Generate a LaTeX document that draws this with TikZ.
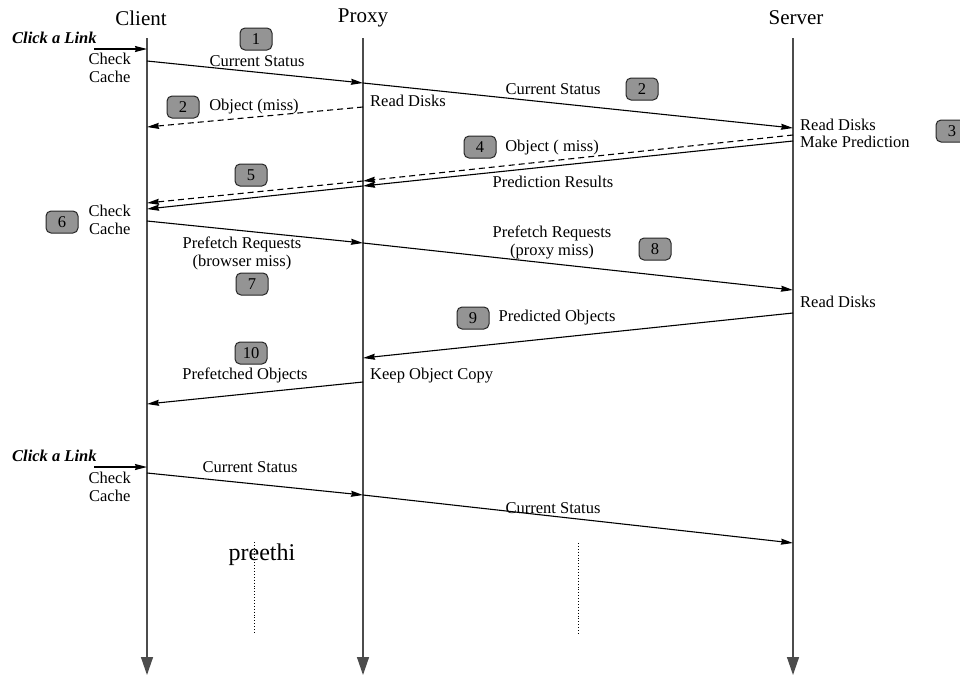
\documentclass[tikz,border=0pt]{standalone}
\usepackage{fontspec}
\setmainfont{Liberation Serif}
\usetikzlibrary{arrows.meta}
\begin{document}
\begin{tikzpicture}[x=1pt,y=-1pt,
  head/.style={inner sep=0pt, font=\fontsize{21}{23}\selectfont},
  lbl/.style={inner sep=0pt, font=\fontsize{16.5}{18}\selectfont, align=center},
  click/.style={inner sep=0pt, font=\fontsize{16.5}{18}\selectfont\bfseries\itshape},
  badge/.style={draw=black!85, fill=black!42, rounded corners=5pt, line width=1pt,
    minimum width=32pt, minimum height=22pt, inner sep=0pt, font=\fontsize{16.5}{18}\selectfont},
  life/.style={draw=black!70, line width=1.4pt, -{Triangle[length=18pt,width=12pt]}},
  msg/.style={draw=black, line width=1.1pt, -{Stealth[length=12pt,width=6pt,inset=1pt]}},
  dmsg/.style={msg, dash pattern=on 6pt off 4pt},
  dots/.style={draw=black, line width=0.9pt, dotted}
]
\useasboundingbox (0,0) rectangle (960,675);

% lifelines
\node[head] (client) at (141,18) {Client};
\node[head] (proxy) at (363,18) {Proxy};
\node[head] (server) at (796,18) {Server};
\coordinate (ct) at (147,38);  \coordinate (cb) at (147,675);
\coordinate (pt) at (363,38);  \coordinate (pb) at (363,675);
\coordinate (st) at (793,38);  \coordinate (sb) at (793,675);
\draw[life] (ct) -- (cb);
\draw[life] (pt) -- (pb);
\draw[life] (st) -- (sb);

% first click
\node[click, anchor=west] (click1) at (12,38) {Click a Link};
\coordinate (k1) at (94,49); \coordinate (k1e) at (147,49);
\draw[msg] (k1) -- (k1e);
\node[lbl, anchor=east] (cc1) at (131,68) {Check\\Cache};

% current status 1
\coordinate (a1) at (147,61); \coordinate (a2) at (363,83); \coordinate (a3) at (793,128);
\draw[msg] (a1) -- (a2);
\draw[msg] (a2) -- (a3);
\node[badge] (b1) at (256,39) {1};
\node[lbl] (cs1) at (257,61) {Current Status};
\node[lbl] (cs2) at (553,89) {Current Status};
\node[badge] (b2r) at (642,89) {2};

% object miss (proxy -> client)
\coordinate (o1) at (363,107); \coordinate (o2) at (147,127);
\draw[dmsg] (o1) -- (o2);
\node[badge] (b2l) at (183,107) {2};
\node[lbl] (om1) at (254,107) {Object (miss)};
\node[lbl, anchor=west] (rd1) at (370,101) {Read Disks};

% server actions
\node[lbl, anchor=west] (rd2) at (800,125) {Read Disks};
\node[lbl, anchor=west] (mp) at (800,142) {Make Prediction};
\node[badge] (b3) at (952,131) {3};

% object miss from server + prediction results
\coordinate (d1) at (793,135); \coordinate (d2) at (363,181); \coordinate (d3) at (147,203);
\draw[dmsg] (d1) -- (d2);
\draw[dmsg] (d2) -- (d3);
\coordinate (p1) at (793,141); \coordinate (p2) at (363,186); \coordinate (p3) at (147,209);
\draw[msg] (p1) -- (p2);
\draw[msg] (p2) -- (p3);
\node[badge] (b4) at (480,147) {4};
\node[lbl] (om2) at (552,148) {Object ( miss)};
\node[lbl] (pr) at (553,182) {Prediction Results};
\node[badge] (b5) at (251,175) {5};

% check cache 2
\node[badge] (b6) at (62,222) {6};
\node[lbl, anchor=east] (cc2) at (131,220) {Check\\Cache};

% prefetch requests
\coordinate (f1) at (147,221); \coordinate (f2) at (363,243); \coordinate (f3) at (793,290);
\draw[msg] (f1) -- (f2);
\draw[msg] (f2) -- (f3);
\node[lbl] (pf1) at (242,253) {Prefetch Requests\\(browser miss)};
\node[badge] (b7) at (252,284) {7};
\node[lbl] (pf2) at (552,242) {Prefetch Requests\\(proxy miss)};
\node[badge] (b8) at (655,249) {8};
\node[lbl, anchor=west] (rd3) at (800,302) {Read Disks};

% predicted objects
\coordinate (q1) at (793,313); \coordinate (q2) at (363,358);
\draw[msg] (q1) -- (q2);
\node[badge] (b9) at (473,318) {9};
\node[lbl] (po) at (557,318) {Predicted Objects};
\node[lbl, anchor=west] (ko) at (370,376) {Keep Object Copy};

% prefetched objects
\coordinate (r1) at (363,382); \coordinate (r2) at (147,404);
\draw[msg] (r1) -- (r2);
\node[badge] (b10) at (251,353) {10};
\node[lbl] (pfo) at (245,375) {Prefetched Objects};

% second click
\node[click, anchor=west] (click2) at (12,456) {Click a Link};
\coordinate (k2) at (94,467); \coordinate (k2e) at (147,467);
\draw[msg] (k2) -- (k2e);
\node[lbl, anchor=east] (cc3) at (131,487) {Check\\Cache};

\coordinate (s1) at (147,473); \coordinate (s2) at (363,495); \coordinate (s3) at (793,543);
\draw[msg] (s1) -- (s2);
\draw[msg] (s2) -- (s3);
\node[lbl] (cs3) at (250,467) {Current Status};
\node[lbl] (cs4) at (553,508) {Current Status};

% continuation marks
\node[inner sep=0pt, font=\fontsize{24}{26}\selectfont] (pre) at (262,555) {preethi};
\coordinate (v1) at (254,542); \coordinate (v2) at (254,632);
\draw[dots] (v1) -- (v2);
\coordinate (w1) at (578,543); \coordinate (w2) at (578,633);
\draw[dots] (w1) -- (w2);
\end{tikzpicture}
\end{document}
